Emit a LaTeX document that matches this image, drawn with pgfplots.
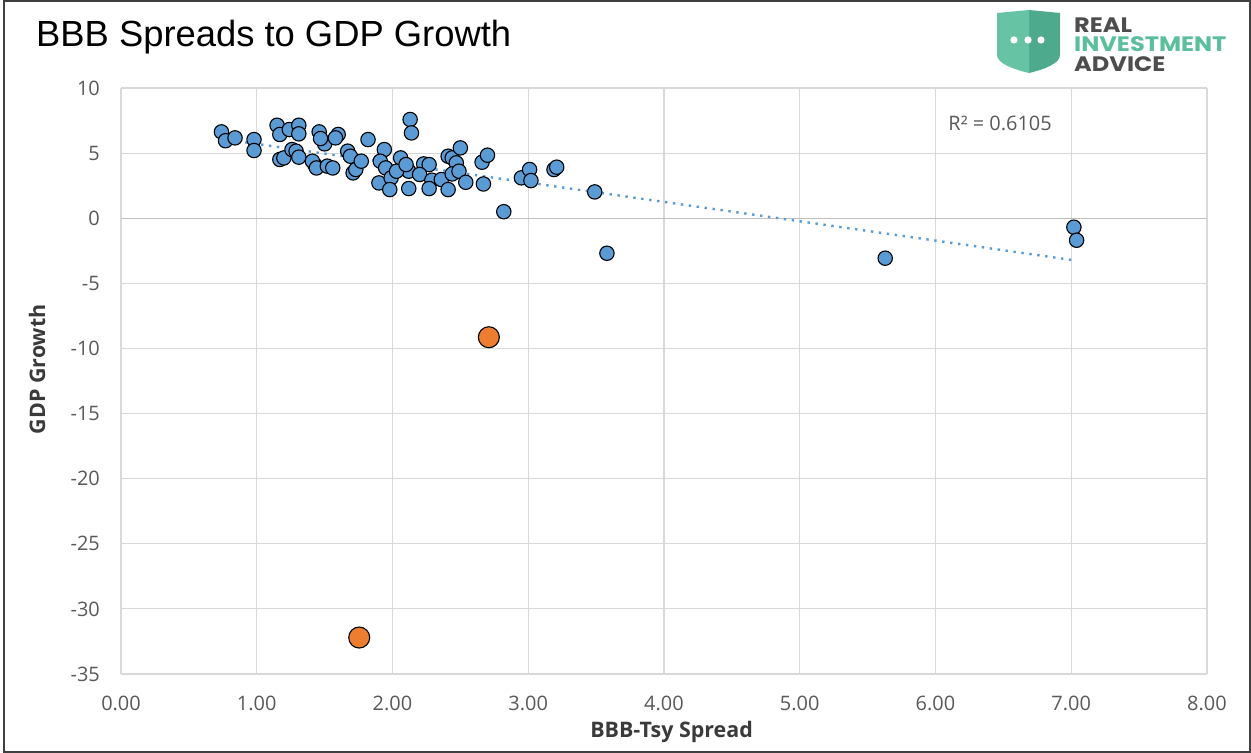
\documentclass[border=0pt]{standalone}
\usepackage{fontspec}
\setmainfont{Open Sans}
\newfontfamily\titlefont{Liberation Sans}
\newfontfamily\logofont{Poppins}
\usepackage{pgfplots}
\pgfplotsset{compat=1.18}
\definecolor{xlblue}{HTML}{5B9BD5}
\definecolor{xlorange}{HTML}{ED7D31}
\definecolor{gridgray}{HTML}{D9D9D9}
\definecolor{zerogray}{HTML}{BFBFBF}
\definecolor{ticklab}{HTML}{595959}
\definecolor{labdark}{HTML}{3A3A3A}
\definecolor{framegray}{HTML}{404040}
\definecolor{shieldlight}{HTML}{66C4A4}
\definecolor{shielddark}{HTML}{4EAA8C}
\definecolor{logogreen}{HTML}{5BBF9B}
\definecolor{logogray}{HTML}{4D4D4D}

% BBB-Tsy spread vs GDP growth
\pgfplotstableread{
x y
0.74 6.63
0.77 5.95
0.84 6.17
0.98 6.04
0.98 5.20
1.15 7.14
1.17 6.43
1.24 6.81
1.31 7.14
1.31 6.48
1.17 4.51
1.20 4.63
1.26 5.27
1.29 5.15
1.31 4.69
1.46 6.63
1.50 5.71
1.47 6.12
1.43 4.07
1.41 4.38
1.44 3.86
1.60 6.43
1.58 6.17
1.52 4.00
1.56 3.86
1.67 5.15
1.69 4.76
1.71 3.48
1.73 3.74
1.77 4.38
1.82 6.04
1.94 5.27
1.91 4.38
1.95 3.86
1.90 2.71
1.99 3.10
1.98 2.20
2.06 4.63
2.12 3.61
2.12 2.28
2.03 3.61
2.10 4.12
2.13 7.58
2.14 6.55
2.23 4.17
2.27 4.12
2.20 3.36
2.29 2.92
2.27 2.28
2.36 2.97
2.41 4.76
2.44 4.63
2.50 5.40
2.47 4.25
2.44 3.40
2.49 3.61
2.41 2.20
2.54 2.76
2.66 4.30
2.70 4.84
2.67 2.63
2.82 0.50
2.95 3.10
3.01 3.74
3.02 2.89
3.19 3.74
3.21 3.92
3.49 2.02
3.58 -2.69
5.63 -3.07
7.02 -0.69
7.04 -1.69
}\spreads

\pgfplotstableread{
x y
2.71 -9.14
1.755 -32.2
}\outliers

\begin{document}
\begin{tikzpicture}
\useasboundingbox (0,0) rectangle (1251bp,753bp);
\fill[white] (0,0) rectangle (1251bp,753bp);

\begin{axis}[
  at={(121bp,79bp)}, anchor=south west,
  width=1086bp, height=586bp, scale only axis,
  xmin=0, xmax=8, ymin=-35, ymax=10,
  xtick={0,1,...,8}, ytick={-35,-30,...,10},
  grid=major,
  grid style={line width=1.2bp, gridgray},
  axis line style={draw=none},
  major tick length=0pt,
  /pgf/number format/assume math mode=true,
  tick label style={font=\fontsize{20}{24}\selectfont, color=ticklab},
  xticklabel style={anchor=north, inner sep=0pt, yshift=-22bp,
    /pgf/number format/.cd, fixed, fixed zerofill, precision=2},
  yticklabel style={anchor=east, inner sep=0pt, xshift=-21bp},
  xlabel={BBB-Tsy Spread},
  ylabel={GDP Growth},
  every axis x label/.style={at={(axis description cs:0.507,-0.109)}, anchor=base,
    font=\bfseries\fontsize{21.5}{25}\selectfont, color=labdark},
  every axis y label/.style={at={(axis description cs:-0.0773,0.52)}, anchor=center, rotate=90,
    font=\bfseries\fontsize{21.5}{25}\selectfont, color=labdark},
]
\draw[line width=1.3bp, zerogray] (axis cs:0,0) -- (axis cs:8,0);
% linear trendline
\addplot[xlblue, line width=2.4bp, dash pattern=on 2.4bp off 5.6bp] coordinates {(0.74,6.09) (7.04,-3.26)};
\addplot[only marks, mark=*, mark size=7.2bp, mark options={fill=xlblue, draw=black, line width=1.1bp}] table[x=x, y=y] {\spreads};
\addplot[only marks, mark=*, mark size=10.5bp, mark options={fill=xlorange, draw=black, line width=1.1bp}] table[x=x, y=y] {\outliers};
\node[anchor=base west, font=\fontsize{20}{24}\selectfont, color=ticklab] at (axis cs:6.07,6.76) {R² = 0.6105};
\end{axis}

% title
\node[anchor=base west, inner sep=0pt, font=\titlefont\fontsize{36.5}{42}\selectfont] at (36bp,706bp) {BBB Spreads to GDP Growth};

% logo
\fill[shielddark] (1029bp,743bp) -- (1060bp,740bp) -- (1060bp,698bp) .. controls (1060bp,690bp) and (1046bp,684bp) .. (1029bp,680bp) -- cycle;
\fill[shieldlight] (997bp,740bp) -- (1029bp,743bp) -- (1029bp,680bp) .. controls (1012bp,684bp) and (997bp,690bp) .. (997bp,698bp) -- cycle;
\foreach \dx in {1014,1028,1041} \fill[white] (\dx bp,713bp) circle (3.6bp);
\node[anchor=base west, inner sep=0pt, xscale=1.15, font=\logofont\bfseries\fontsize{21}{24}\selectfont, color=logogray] at (1074bp,720bp) {REAL};
\node[anchor=base west, inner sep=0pt, xscale=1.15, font=\logofont\bfseries\fontsize{21}{24}\selectfont, color=logogreen] at (1074bp,701bp) {INVESTMENT};
\node[anchor=base west, inner sep=0pt, xscale=1.15, font=\logofont\bfseries\fontsize{21}{24}\selectfont, color=logogray] at (1074bp,681bp) {ADVICE};

% frame
\draw[line width=2bp, framegray] (4bp,1bp) rectangle (1250bp,752bp);
\end{tikzpicture}
\end{document}
